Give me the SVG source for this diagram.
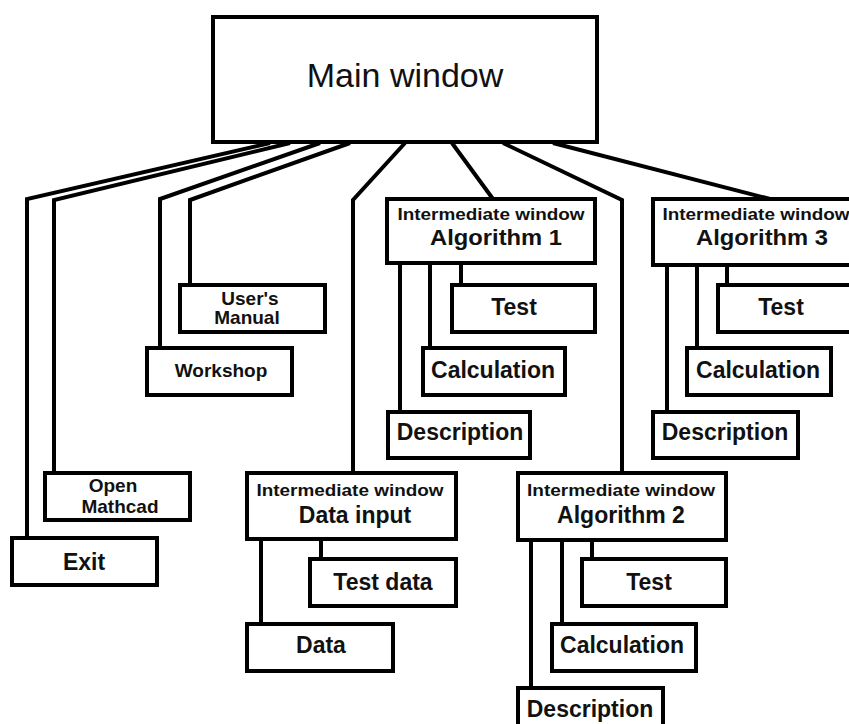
<svg xmlns="http://www.w3.org/2000/svg" width="849" height="724" viewBox="0 0 849 724">
<style>
.box{fill:#fff;stroke:#000;stroke-width:4}
.ln{fill:none;stroke:#000;stroke-width:4;stroke-linejoin:miter}
text{font-family:"Liberation Sans",Arial,sans-serif;fill:#111;text-anchor:middle}
.b{font-weight:bold;font-size:23px}
.a{font-weight:bold;font-size:22px}
.s{font-weight:bold;font-size:16px}
.m{font-weight:bold;font-size:19px}
</style>
<rect width="849" height="724" fill="#fff"/>
<g id="connectors">
<polyline class="ln" points="270,143 27,199 27,538"/>
<polyline class="ln" points="290,143 54,200 54,473"/>
<polyline class="ln" points="320,143 160,199 160,348"/>
<polyline class="ln" points="350,143 190,200 190,285"/>
<polyline class="ln" points="405,143 353,200 353,473"/>
<polyline class="ln" points="452,143 493,199"/>
<polyline class="ln" points="503,143 622,200 622,473"/>
<polyline class="ln" points="553,143 770,199"/>
<line class="ln" x1="461" y1="263" x2="461" y2="285"/>
<line class="ln" x1="430" y1="263" x2="430" y2="348"/>
<line class="ln" x1="400" y1="263" x2="400" y2="412"/>
<line class="ln" x1="727" y1="265" x2="727" y2="285"/>
<line class="ln" x1="697" y1="265" x2="697" y2="348"/>
<line class="ln" x1="667" y1="265" x2="667" y2="412"/>
<line class="ln" x1="321" y1="539" x2="321" y2="559"/>
<line class="ln" x1="261" y1="539" x2="261" y2="624"/>
<line class="ln" x1="592" y1="540" x2="592" y2="559"/>
<line class="ln" x1="562" y1="540" x2="562" y2="624"/>
<line class="ln" x1="531" y1="540" x2="531" y2="688"/>
</g>
<g id="main">
<rect class="box" x="213" y="17" width="384" height="125"/>
<text x="405" y="87" font-size="34">Main window</text>
</g>
<g id="alg1">
<rect class="box" x="387" y="199" width="208" height="64"/>
<text class="s" x="491" y="220" textLength="187" lengthAdjust="spacingAndGlyphs">Intermediate window</text>
<text class="a" x="496" y="245" textLength="132" lengthAdjust="spacingAndGlyphs">Algorithm 1</text>
</g>
<g id="alg1-test">
<rect class="box" x="452" y="285" width="143" height="47"/>
<text class="b" x="514" y="315">Test</text>
</g>
<g id="alg1-calc">
<rect class="box" x="423" y="348" width="142" height="47"/>
<text class="b" x="493" y="378">Calculation</text>
</g>
<g id="alg1-desc">
<rect class="box" x="388" y="412" width="142" height="46"/>
<text class="b" x="460" y="440">Description</text>
</g>
<g id="alg3">
<rect class="box" x="653" y="199" width="203" height="66"/>
<text class="s" x="756" y="220" textLength="187" lengthAdjust="spacingAndGlyphs">Intermediate window</text>
<text class="a" x="762" y="245" textLength="132" lengthAdjust="spacingAndGlyphs">Algorithm 3</text>
</g>
<g id="alg3-test">
<rect class="box" x="718" y="285" width="140" height="47"/>
<text class="b" x="781" y="315">Test</text>
</g>
<g id="alg3-calc">
<rect class="box" x="687" y="348" width="144" height="47"/>
<text class="b" x="758" y="378">Calculation</text>
</g>
<g id="alg3-desc">
<rect class="box" x="653" y="412" width="145" height="46"/>
<text class="b" x="725" y="440">Description</text>
</g>
<g id="manual">
<rect class="box" x="180" y="285" width="145" height="47"/>
<text class="m" x="250" y="305">User's</text>
<text class="m" x="247" y="324">Manual</text>
</g>
<g id="workshop">
<rect class="box" x="147" y="348" width="145" height="47"/>
<text class="m" x="221" y="377">Workshop</text>
</g>
<g id="mathcad">
<rect class="box" x="45" y="473" width="145" height="47"/>
<text class="m" x="113" y="492">Open</text>
<text class="m" x="120" y="513">Mathcad</text>
</g>
<g id="exit">
<rect class="box" x="12" y="538" width="145" height="47"/>
<text class="b" x="84" y="570">Exit</text>
</g>
<g id="datainput">
<rect class="box" x="247" y="473" width="209" height="66"/>
<text class="s" x="350" y="496" textLength="187" lengthAdjust="spacingAndGlyphs">Intermediate window</text>
<text class="b" x="355" y="523">Data input</text>
</g>
<g id="testdata">
<rect class="box" x="310" y="559" width="146" height="47"/>
<text class="b" x="383" y="590">Test data</text>
</g>
<g id="data">
<rect class="box" x="247" y="624" width="146" height="47"/>
<text class="b" x="321" y="653">Data</text>
</g>
<g id="alg2">
<rect class="box" x="518" y="473" width="208" height="67"/>
<text class="s" x="621" y="496" textLength="188" lengthAdjust="spacingAndGlyphs">Intermediate window</text>
<text class="b" x="621" y="523">Algorithm 2</text>
</g>
<g id="alg2-test">
<rect class="box" x="582" y="559" width="144" height="47"/>
<text class="b" x="649" y="590">Test</text>
</g>
<g id="alg2-calc">
<rect class="box" x="552" y="624" width="144" height="47"/>
<text class="b" x="622" y="653">Calculation</text>
</g>
<g id="alg2-desc">
<rect class="box" x="518" y="688" width="145" height="50"/>
<text class="b" x="590" y="717">Description</text>
</g>
</svg>
